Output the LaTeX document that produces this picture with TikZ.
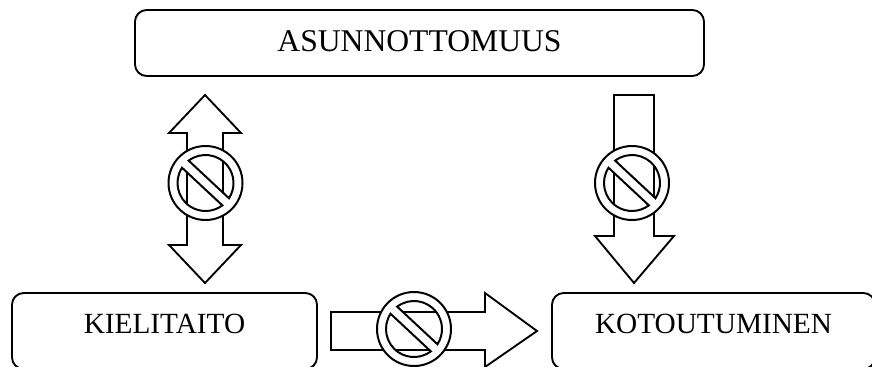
\documentclass[tikz,border=0pt]{standalone}
\usepackage{fontspec}
\setmainfont{Liberation Serif}
\usepackage{tikz}
\usetikzlibrary{calc}
\def\nosign(#1){
	\draw[line width=1.7pt, fill=white, even odd rule] (#1) circle (37)
		($(#1)+(-127:28)$) arc (-127:33:28) -- cycle
		($(#1)+(-147:28)$) arc (-147:-307:28) -- cycle;
}
\tikzset{
	textbox/.style={draw, line width=1.6pt, rounded corners=10pt, inner sep=0pt},
	blockarrow/.style={draw, line width=1.6pt, fill=white}
}

\begin{document}
\begin{tikzpicture}[x=0.03cm, y=-0.03cm]
	\useasboundingbox (0, 0) rectangle (872, 367);
	%%%%% BOXES %%%%%

	\node[textbox, font=\fontsize{27pt}{32pt}\selectfont, text depth=3pt, minimum width=17.07cm, minimum height=1.98cm] (asunnottomuus) at (419.5, 43) {ASUNNOTTOMUUS};
	\node[textbox, font=\fontsize{25pt}{30pt}\selectfont, text depth=13pt, minimum width=9.15cm, minimum height=2.28cm] (kielitaito) at (164.5, 331) {KIELITAITO};
	\node[textbox, font=\fontsize{25pt}{30pt}\selectfont, text depth=13pt, minimum width=9.69cm, minimum height=2.28cm] (kotoutuminen) at (713.5, 331) {KOTOUTUMINEN};

	%%%%% ARROWS %%%%%

	\draw[blockarrow] (205, 95) -- (241, 133) -- (223, 133) -- (223, 245) -- (241, 245) -- (205, 283) -- (169, 245) -- (187, 245) -- (187, 133) -- (169, 133) -- cycle;
	\nosign(205.5, 183)

	\draw[blockarrow] (614, 95) -- (654, 95) -- (654, 236) -- (674, 236) -- (634, 283) -- (595, 236) -- (614, 236) -- cycle;
	\nosign(632, 183)

	\draw[blockarrow] (331, 312) -- (485, 312) -- (485, 293) -- (537, 331) -- (485, 367) -- (485, 350) -- (331, 350) -- cycle;
	\nosign(414, 329)

	%%%%% END %%%%%
\end{tikzpicture}
\end{document}
